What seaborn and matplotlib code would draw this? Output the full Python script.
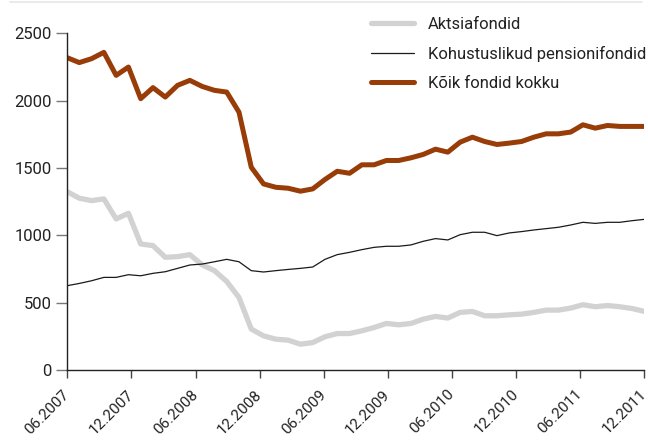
import pandas as pd
import matplotlib.pyplot as plt
import matplotlib.lines as mlines
import seaborn as sns

# Andmed (loetud jooniselt), 48 vaatlust 06.2007 - 12.2011
aktsia = [1324, 1275, 1257, 1270, 1121, 1163, 935, 923, 836, 841, 856, 780,
          737, 657, 538, 303, 253, 228, 221, 191, 203, 246, 270, 270,
          290, 315, 345, 335, 345, 377, 397, 385, 427, 434, 402, 402,
          409, 414, 427, 444, 444, 459, 484, 469, 478, 469, 456, 434]
kohustuslikud = [625, 642, 662, 687, 687, 707, 699, 717, 729, 754, 779, 786,
                 803, 821, 803, 737, 727, 737, 746, 754, 764, 821, 856, 873,
                 893, 910, 918, 918, 928, 955, 975, 965, 1004, 1022, 1022, 997,
                 1017, 1027, 1039, 1049, 1059, 1076, 1096, 1088, 1096, 1096, 1108, 1118]
koik = [2319, 2282, 2311, 2358, 2187, 2249, 2014, 2096, 2026, 2113, 2150, 2105,
        2076, 2063, 1914, 1505, 1381, 1356, 1349, 1327, 1344, 1414, 1475, 1460,
        1523, 1523, 1555, 1555, 1575, 1600, 1639, 1617, 1691, 1728, 1696, 1674,
        1684, 1696, 1728, 1753, 1753, 1766, 1820, 1795, 1815, 1808, 1808, 1808]
sildid = ["Aktsiafondid", "Kohustuslikud pensionifondid", "Kõik fondid kokku"]
tick_kuud = ["06.2007", "12.2007", "06.2008", "12.2008", "06.2009",
             "12.2009", "06.2010", "12.2010", "06.2011", "12.2011"]

kuupaevad = pd.date_range("2007-06-01", "2011-12-01", periods=len(koik))
df = pd.DataFrame({"kuupaev": kuupaevad, sildid[0]: aktsia,
                   sildid[1]: kohustuslikud, sildid[2]: koik})

sns.set_style("white")
plt.rcParams["font.family"] = ["Roboto", "DejaVu Sans"]

fig = plt.figure(figsize=(6.48, 4.43), dpi=100)
ax = fig.add_axes([0.1034, 0.165, 0.891, 0.760])

stiilid = [("#d2d2d2", 3.8), ("#1a1a1a", 0.9), ("#983c08", 3.6)]
for nimi, (varv, lw) in zip(sildid, stiilid):
    sns.lineplot(data=df, x="kuupaev", y=nimi, ax=ax, color=varv,
                 linewidth=lw, label=nimi)

ax.set_xlim(kuupaevad[0], kuupaevad[-1])
ax.set_ylim(0, 2500)
ax.set_yticks([0, 500, 1000, 1500, 2000, 2500])
tick_pos = pd.to_datetime(tick_kuud, format="%m.%Y")
ax.set_xticks(tick_pos)
ax.set_xticklabels(tick_kuud, rotation=45, ha="right", va="center",
                   rotation_mode="anchor")
ax.set_xlabel("")
ax.set_ylabel("")

for s in ["top", "right"]:
    ax.spines[s].set_visible(False)
for s in ["left", "bottom"]:
    ax.spines[s].set_color("#222222")
    ax.spines[s].set_linewidth(1.0)
ax.tick_params(axis="y", length=8, width=1, color="#777777", labelsize=12,
               labelcolor="#222222", left=True, pad=3)
ax.tick_params(axis="x", length=6, width=1, color="#444444", labelsize=11,
               labelcolor="#222222", bottom=True, direction="out", pad=10)

leg = ax.legend(loc="upper right", bbox_to_anchor=(0.997, 0.962),
                bbox_transform=fig.transFigure, frameon=False, fontsize=12,
                handlelength=2.6, handletextpad=0.8, labelspacing=0.85,
                borderpad=0, borderaxespad=0)
for t in leg.get_texts():
    t.set_color("#222222")

# hall joon joonise ülaservas
fig.add_artist(mlines.Line2D([0.015, 0.99], [0.995, 0.995], color="#e6e6e6",
                             linewidth=1.2, transform=fig.transFigure))

fig.savefig("out.png", dpi=100)
